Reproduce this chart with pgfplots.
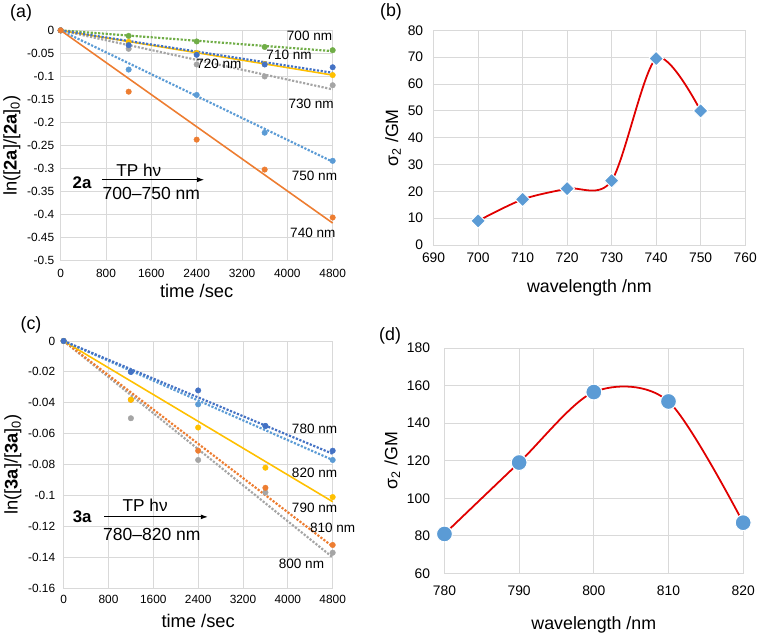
\documentclass[border=0pt]{standalone}
\usepackage{fontspec}
\setmainfont{Liberation Sans}
\usepackage{pgfplots}
\pgfplotsset{compat=1.18}
\usetikzlibrary{arrows.meta}
\definecolor{gridc}{HTML}{D9D9D9}
\definecolor{xblue}{HTML}{5B9BD5}
\definecolor{xorange}{HTML}{ED7D31}
\definecolor{xgray}{HTML}{A5A5A5}
\definecolor{xyellow}{HTML}{FFC000}
\definecolor{xdblue}{HTML}{4472C4}
\definecolor{xgreen}{HTML}{70AD47}
\definecolor{xred}{HTML}{E00000}
\pgfplotsset{
 ex/.style={scale only axis, axis line style={draw=gridc, line width=0.8pt}, grid=major,
   major grid style={draw=gridc, line width=0.8pt}, major tick length=0pt, tick style={draw=none},
   /pgf/number format/assume math mode=true, /pgf/number format/1000 sep={},
   scaled x ticks=false, scaled y ticks=false, clip=false, anchor=north west},
 kin/.style={ex, xmin=0, xmax=4800, xtick={0,800,1600,2400,3200,4000,4800},
   ticklabel style={font=\fontsize{12}{14}\selectfont},
   label style={font=\fontsize{18.5}{21}\selectfont}, xlabel={time /sec}},
 spec/.style={ex, ticklabel style={font=\fontsize{14}{16}\selectfont},
   label style={font=\fontsize{18}{21}\selectfont}, xlabel={wavelength /nm}, ylabel={σ\textsubscript{2} /GM}},
 dots/.style={only marks, mark=*, mark size=2.8pt, color=#1, mark options={solid, draw=#1, fill=#1}},
 fitl/.style={no marks, draw=#1, line width=2.2pt, dash pattern=on 2.2pt off 1.6pt},
 fits/.style={no marks, draw=#1, line width=1.6pt},
}
\begin{document}
\begin{tikzpicture}
\path (0pt,0pt) rectangle (760pt,633pt);
% ---------- (a)
\begin{axis}[kin, at={(58pt,604pt)}, width=275pt, height=233pt,
  xticklabel shift=5pt, yticklabel shift=3pt,
  ymin=-0.5, ymax=0, ytick={0,-0.05,-0.1,-0.15,-0.2,-0.25,-0.3,-0.35,-0.4,-0.45,-0.5},
  yticklabels={0,-0.05,-0.1,-0.15,-0.2,-0.25,-0.3,-0.35,-0.4,-0.45,-0.5},
  ylabel={ln([\textbf{2a}]/[\textbf{2a}]\textsubscript{0})}]
\addplot[fitl=xgreen] coordinates {(0,0)(4800,-0.045)};
\addplot[fitl=xgray] coordinates {(0,0)(4800,-0.128)};
\addplot[fits=xyellow] coordinates {(0,0)(4800,-0.097)};
\addplot[fitl=xdblue] coordinates {(0,0)(4800,-0.092)};
\addplot[fitl=xblue] coordinates {(0,0)(4800,-0.285)};
\addplot[fits=xorange] coordinates {(0,0)(4800,-0.418)};
\addplot[dots=xgreen] coordinates {(0,0)(1200,-0.012)(2400,-0.024)(3600,-0.036)(4800,-0.043)};
\addplot[dots=xyellow] coordinates {(0,0)(1200,-0.025)(2400,-0.049)(3600,-0.073)(4800,-0.097)};
\addplot[dots=xgray] coordinates {(0,0)(1200,-0.040)(2400,-0.074)(3600,-0.100)(4800,-0.119)};
\addplot[dots=xdblue] coordinates {(0,0)(1200,-0.032)(2400,-0.053)(3600,-0.074)(4800,-0.080)};
\addplot[dots=xblue] coordinates {(0,0)(1200,-0.085)(2400,-0.140)(3600,-0.222)(4800,-0.283)};
\addplot[dots=xorange] coordinates {(0,0)(1200,-0.133)(2400,-0.237)(3600,-0.302)(4800,-0.406)};
\begin{scope}[every node/.style={font=\fontsize{13.7}{15}\selectfont}]
\node at (axis cs:4392,-0.011) {700 nm};
\node at (axis cs:4031,-0.052) {710 nm};
\node at (axis cs:2792,-0.072) {720 nm};
\node at (axis cs:4421,-0.159) {730 nm};
\node at (axis cs:4479,-0.316) {750 nm};
\node at (axis cs:4450,-0.439) {740 nm};
\end{scope}
\node[font=\fontsize{17}{19}\selectfont\bfseries] at (axis cs:378,-0.330) {2a};
\draw[line width=0.8pt, -{Latex[length=7pt,width=5pt]}] (axis cs:727,-0.324) -- (axis cs:2530,-0.324);
\node[font=\fontsize{17.4}{19}\selectfont] at (axis cs:1378,-0.303) {TP hν};
\node[font=\fontsize{17.7}{20}\selectfont] at (axis cs:1600,-0.353) {700–750 nm};
\end{axis}
% ---------- (b)
\begin{axis}[spec, at={(435pt,604pt)}, width=315pt, height=217pt,
  xticklabel shift=4pt, yticklabel shift=7pt, xlabel style={yshift=-11pt},
  xmin=690, xmax=760, xtick={690,700,...,760}, ymin=0, ymax=80, ytick={0,10,...,80}]
\addplot[xred, line width=1.8pt, smooth, tension=0.5, mark=square*, mark size=5.2pt,
  mark options={fill=xblue, draw=white, line width=1pt, solid, rotate=45}]
  coordinates {(700,9)(710,17)(720,21)(730,24)(740,69.5)(750,50)};
\end{axis}
% ---------- (c)
\begin{axis}[kin, at={(61pt,290pt)}, width=272pt, height=250pt,
  xticklabel shift=3pt, yticklabel shift=5pt, xlabel style={yshift=-4pt},
  ymin=-0.16, ymax=0, ytick={0,-0.02,-0.04,-0.06,-0.08,-0.1,-0.12,-0.14,-0.16},
  yticklabels={0,-0.02,-0.04,-0.06,-0.08,-0.1,-0.12,-0.14,-0.16},
  ylabel={ln([\textbf{3a}]/[\textbf{3a}]\textsubscript{0})}]
\addplot[fitl=xgray] coordinates {(0,0)(4800,-0.140)};
\addplot[fitl=xorange] coordinates {(0,0)(4800,-0.133)};
\addplot[fits=xyellow] coordinates {(0,0)(4800,-0.104)};
\addplot[fitl=xblue] coordinates {(0,0)(4800,-0.077)};
\addplot[fitl=xdblue] coordinates {(0,0)(4800,-0.073)};
\addplot[dots=xgray] coordinates {(0,0)(1200,-0.050)(2400,-0.077)(3600,-0.098)(4800,-0.137)};
\addplot[dots=xorange] coordinates {(0,0)(1200,-0.038)(2400,-0.071)(3600,-0.095)(4800,-0.132)};
\addplot[dots=xyellow] coordinates {(0,0)(1200,-0.038)(2400,-0.056)(3600,-0.082)(4800,-0.101)};
\addplot[dots=xblue] coordinates {(0,0)(1200,-0.020)(2400,-0.041)(3600,-0.055)(4800,-0.077)};
\addplot[dots=xdblue] coordinates {(0,0)(1200,-0.020)(2400,-0.032)(3600,-0.055)(4800,-0.071)};
\begin{scope}[every node/.style={font=\fontsize{13.7}{15}\selectfont}]
\node at (axis cs:4477,-0.057) {780 nm};
\node at (axis cs:4477,-0.0856) {820 nm};
\node at (axis cs:4477,-0.108) {790 nm};
\node at (axis cs:4800,-0.121) {810 nm};
\node at (axis cs:4243,-0.144) {800 nm};
\end{scope}
\node[font=\fontsize{17}{19}\selectfont\bfseries] at (axis cs:331,-0.114) {3a};
\draw[line width=0.8pt, -{Latex[length=7pt,width=5pt]}] (axis cs:722,-0.1138) -- (axis cs:2570,-0.1138);
\node[font=\fontsize{17.4}{19}\selectfont] at (axis cs:1455,-0.1063) {TP hν};
\node[font=\fontsize{17.7}{20}\selectfont] at (axis cs:1573,-0.125) {780–820 nm};
\end{axis}
% ---------- (d)
\begin{axis}[spec, at={(446pt,283pt)}, width=302pt, height=228pt,
  xticklabel shift=9pt, yticklabel shift=11pt, xlabel style={yshift=-14pt},
  xmin=780, xmax=820, xtick={780,790,...,820}, ymin=60, ymax=180, ytick={60,80,...,180}]
\addplot[xred, line width=1.8pt, smooth, tension=0.5, mark=*, mark size=8pt,
  mark options={fill=xblue, draw=white, line width=1pt, solid}]
  coordinates {(780,81)(790,119)(800,156.5)(810,151.5)(820,87)};
\end{axis}
% panel labels
\begin{scope}[every node/.style={font=\fontsize{18}{20}\selectfont}]
\node at (18pt,622pt) {(a)};
\node at (392pt,623pt) {(b)};
\node at (28pt,306pt) {(c)};
\node at (391pt,295pt) {(d)};
\end{scope}
\end{tikzpicture}
\end{document}
